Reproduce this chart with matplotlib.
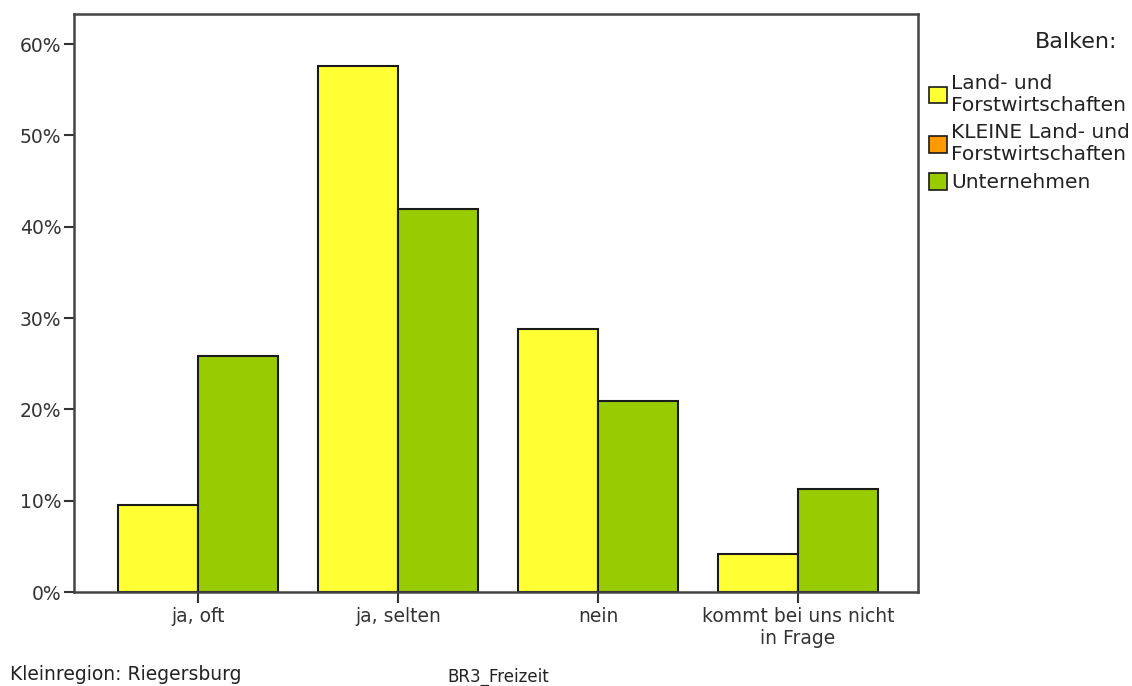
import matplotlib

matplotlib.use("Agg")
import matplotlib.pyplot as plt
from matplotlib.patches import Patch
from matplotlib.ticker import PercentFormatter

categories = ["ja, oft", "ja, selten", "nein", "kommt bei uns nicht\nin Frage"]
series_names = ["Land- und\nForstwirtschaften", "KLEINE Land- und\nForstwirtschaften", "Unternehmen"]
land_forst = [9.5, 57.6, 28.8, 4.2]
kleine_land_forst = [None, None, None, None]  # keine Werte in dieser Kleinregion
unternehmen = [25.8, 41.9, 20.9, 11.3]
y_ticks = [0, 10, 20, 30, 40, 50, 60]

colors = ["#ffff33", "#ff9900", "#99cc00"]
edge = "#1a1a1a"

plt.rcParams["font.family"] = ["DejaVu Sans"]

fig = plt.figure(figsize=(11.32, 6.86), dpi=100)
ax = fig.add_axes([0.0654, 0.137, 0.7456, 0.8426])

x = list(range(len(categories)))
width = 0.4
ax.bar([i - width / 2 for i in x], land_forst, width, color=colors[0], edgecolor=edge, linewidth=1.5)
ax.bar([i + width / 2 for i in x], unternehmen, width, color=colors[2], edgecolor=edge, linewidth=1.5)

ax.set_xlim(-0.62, 3.6)
ax.set_ylim(0, 63.3)
ax.set_yticks(y_ticks)
ax.yaxis.set_major_formatter(PercentFormatter(decimals=0))
ax.set_xticks(x)
ax.set_xticklabels(categories, linespacing=1.2)
ax.tick_params(axis="both", direction="out", length=7, width=1.5, color="#333333", labelsize=13.5, colors="#333333")
ax.tick_params(axis="x", length=8, pad=3)
ax.tick_params(axis="y", pad=2)
for spine in ax.spines.values():
    spine.set_linewidth(1.8)
    spine.set_color("#444444")

fig.text(1117 / 1132, 1 - 42 / 686, "Balken:", ha="right", va="center", fontsize=16, color="#222222")
handles = [Patch(facecolor=c, edgecolor=edge, linewidth=1.2) for c in colors]
leg = fig.legend(
    handles,
    series_names,
    loc="upper left",
    bbox_to_anchor=(929 / 1132, 1 - 74 / 686),
    frameon=False,
    fontsize=14.5,
    handlelength=0.9,
    handleheight=0.9,
    handletextpad=0.2,
    labelspacing=0.42,
    borderaxespad=0,
    borderpad=0,
)
for t in leg.get_texts():
    t.set_linespacing(1.2)
    t.set_color("#222222")

fig.text(10 / 1132, 1 - 675 / 686, "Kleinregion: Riegersburg", ha="left", va="center", fontsize=13.5, color="#222222")
fig.text(447 / 1132, 1 - 677 / 686, "BR3_Freizeit", ha="left", va="center", fontsize=12, color="#222222")

fig.savefig("out.png", dpi=100)
plt.close(fig)
